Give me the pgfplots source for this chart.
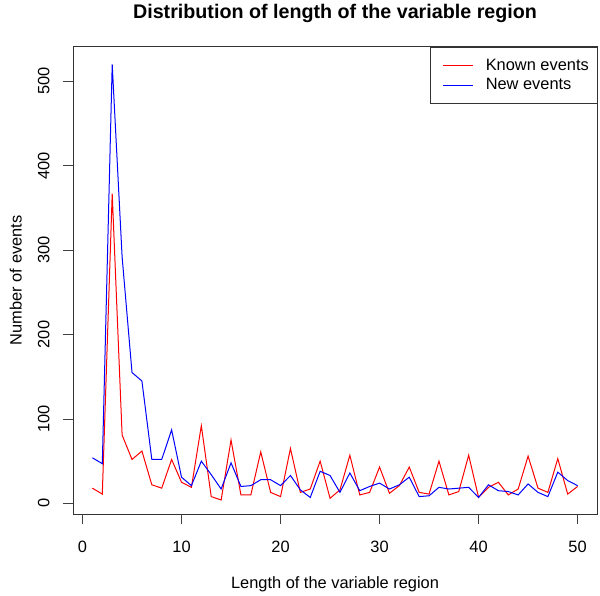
\documentclass[border=0pt]{standalone}
\usepackage{pgfplots}
\pgfplotsset{compat=1.18}
\usepackage{fontspec}
\setmainfont{Liberation Sans}
\pgfplotstableread{
x known new
1 18 54
2 11 47
3 367 520
4 81 292
5 52 155
6 62 145
7 22 52
8 18 52
9 52 87
10 25 31
11 19 21
12 92 50
13 8 34
14 4 17
15 75 48
16 10 20
17 10 21
18 61 28
19 13 28
20 8 21
21 65 33
22 13 16
23 17 7
24 50 38
25 6 33
26 16 13
27 57 36
28 10 15
29 13 20
30 43 24
31 12 17
32 21 22
33 43 31
34 13 8
35 11 9
36 50 19
37 10 17
38 14 18
39 57 19
40 7 7
41 19 22
42 25 15
43 10 14
44 17 10
45 56 23
46 18 13
47 13 8
48 53 37
49 11 27
50 20 21
}\datatable
\begin{document}
\begin{tikzpicture}[x=1pt,y=1pt]
\useasboundingbox (0,0) rectangle (600,595);
\begin{axis}[
  at={(73pt,81pt)}, anchor=south west,
  scale only axis, width=524pt, height=467.3pt,
  xmin=-0.96, xmax=51.96, ymin=-12.6, ymax=541,
  xtick={0,10,...,50}, ytick={0,100,...,500},
  xtick pos=bottom, ytick pos=left,
  tick align=outside, major tick length=10pt,
  every tick/.style={black!75, line width=0.8pt},
  axis line style={black!80, line width=0.8pt},
  /pgf/number format/assume math mode=true,
  tick label style={font=\fontsize{16.4}{19}\selectfont},
  xticklabel style={yshift=-14pt},
  yticklabel style={xshift=-10pt, rotate=90, anchor=south},
  label style={font=\fontsize{16.4}{19}\selectfont},
  xlabel={Length of the variable region},
  ylabel={Number of events},
  xlabel style={at={(axis description cs:0.5,-0.15)}, anchor=center},
  ylabel style={at={(axis description cs:-0.109,0.5)}, anchor=center, rotate=0},
  title={\bfseries Distribution of length of the variable region},
  title style={at={(axis description cs:0.5,1.077)}, anchor=center, yshift=-9pt, font=\fontsize{19.7}{23}\selectfont},
  legend style={at={(1,1)}, anchor=north east, draw=black!80,
    font=\fontsize{16.4}{18}\selectfont, inner xsep=6pt, inner ysep=10pt,
    row sep=3pt, column sep=10pt, cells={anchor=west}},
  legend image code/.code={\path (0pt,0pt); \draw[#1] (7pt,0pt) -- (37pt,0pt);},
]
\addplot[draw=red, line width=1pt] table[x=x, y=known] {\datatable};
\addlegendentry{Known events}
\addplot[draw=blue, line width=1pt] table[x=x, y=new] {\datatable};
\addlegendentry{New events}
\end{axis}
\end{tikzpicture}
\end{document}
